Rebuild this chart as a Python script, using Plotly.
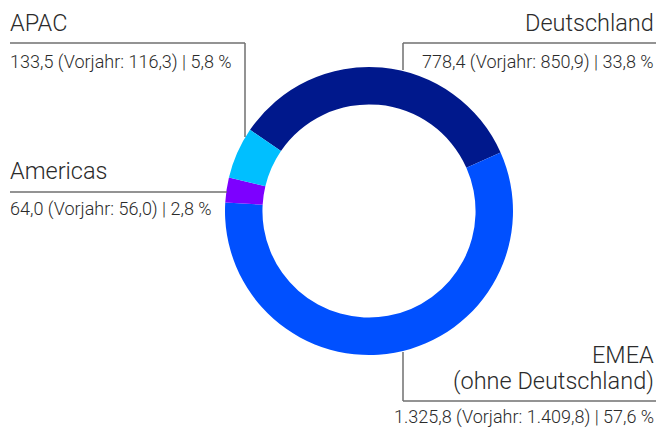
import plotly.graph_objects as go

W, H = 656, 428

regions = ["Deutschland", "EMEA (ohne Deutschland)", "Americas", "APAC"]
values = [778.4, 1325.8, 64.0, 133.5]
prev_year = ["850,9", "1.409,8", "56,0", "116,3"]
value_text = ["778,4", "1.325,8", "64,0", "133,5"]
shares = ["33,8", "57,6", "2,8", "5,8"]
colors = ["#00188c", "#0050ff", "#7d00ff", "#00bfff"]

FONT = "Roboto"
TXT = "#2b2b2b"
LINE = "#6f6f6f"

def px(x):
    return x / W

def py(y):
    return 1 - y / H

cx, cy, r = 369, 211, 144

fig = go.Figure(go.Pie(
    labels=regions, values=values, sort=False, direction="clockwise",
    rotation=-55.7, hole=0.74, marker=dict(colors=colors, line=dict(width=0)),
    textinfo="none", hoverinfo="label+value+percent", showlegend=False,
    domain=dict(x=[px(cx - r), px(cx + r)], y=[py(cy + r), py(cy - r)]),
))

def sub(i):
    return f"{value_text[i]} (Vorjahr: {prev_year[i]}) | {shares[i]} %"

ann = []
def add(text, x, y, size, xanchor):
    ann.append(dict(text=text, x=px(x), y=py(y), xref="paper", yref="paper",
                    xanchor=xanchor, yanchor="middle", showarrow=False,
                    font=dict(family=FONT, size=size, color=TXT, weight=300)))

add("APAC", 8, 23, 23.5, "left")
add(sub(3), 8, 62, 18, "left")
add("Deutschland", 656, 23, 23.5, "right")
add(sub(0), 656, 62, 18, "right")
add("Americas", 8, 171, 23.5, "left")
add(sub(2), 8, 209, 18, "left")
add("EMEA", 656, 355, 23.5, "right")
add("(ohne Deutschland)", 656, 381, 23.5, "right")
add(sub(1), 656, 417, 18, "right")

shapes = []
def seg(x0, y0, x1, y1):
    shapes.append(dict(type="line", xref="paper", yref="paper",
                       x0=px(x0), y0=py(y0), x1=px(x1), y1=py(y1),
                       line=dict(color=LINE, width=1.5)))

seg(10, 43, 245, 43)
seg(245, 43, 245, 137)
seg(403, 43, 656, 43)
seg(403, 43, 403, 70)
seg(10, 192, 227, 192)
seg(403, 401, 656, 401)
seg(403, 401, 403, 352)

fig.update_layout(width=W, height=H, margin=dict(l=0, r=0, t=0, b=0),
                  paper_bgcolor="white", plot_bgcolor="white",
                  annotations=ann, shapes=shapes)
fig.write_html("out.html", config={"displayModeBar": False},
               post_script="document.body.style.margin='0';"
                           "document.body.style.overflow='hidden';")
